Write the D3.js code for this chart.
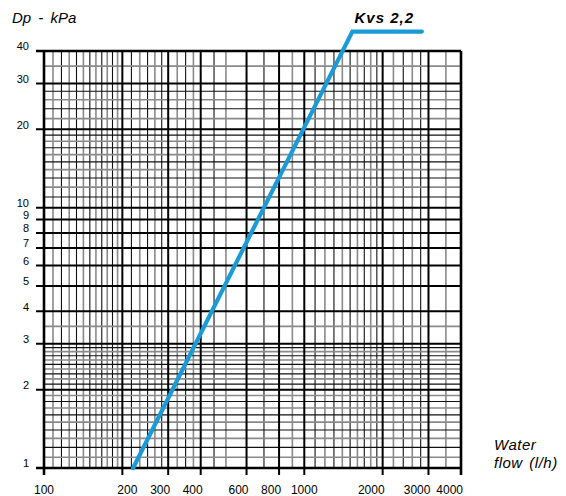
<!DOCTYPE html>
<html><head><meta charset="utf-8">
<script src="https://cdn.jsdelivr.net/npm/d3@7"></script>
<style>body{margin:0;background:#fff}svg{display:block}text{font-family:"Liberation Sans",Arial,Helvetica,sans-serif;fill:#000}</style>
</head><body><svg id="c" width="566" height="496"></svg>
<script>
// ---- data ----
const xMajor = [100, 200, 300, 400, 600, 800, 1000, 2000, 3000, 4000];
const xMinor = [108.3, 116.7, 125, 133.3, 141.7, 150, 158.3, 166.7, 175, 183.3, 191.7,
  216.7, 233.3, 250, 266.7, 283.3, 325, 350, 375, 450, 500, 700, 900,
  1100, 1200, 1300, 1400, 1500, 1600, 1700, 1800, 1900, 2200, 2400, 2600, 2800, 3500];
const yMajor = [1, 2, 3, 4, 5, 6, 7, 8, 9, 10, 20, 30, 40];
const yMinor = [1.1, 1.2, 1.3, 1.4, 1.5, 1.6, 1.7, 1.8, 1.9,
  2.1, 2.2, 2.3, 2.4, 2.5, 2.6, 2.7, 2.8, 2.9, 3.5,
  11, 12, 13, 14, 15, 16, 17, 18, 19, 22, 24, 26, 28, 35];
const xTickLabels = ["100", "200", "300", "400", "600", "800", "1000", "2000", "3000", "4000"];
const yTickLabels = ["1", "2", "3", "4", "5", "6", "7", "8", "9", "10", "20", "30", "40"];
const kvsFlow = [220, 1530, 2830];   // l/h
const kvsDp = [1, 47.5, 47.5];       // kPa
const kvsLabel = "Kvs 2,2";

// ---- chart ----
const svg = d3.select("#c");
const x = d3.scaleLog().domain([100, 4000]).range([44, 461]);
const y = d3.scaleLog().domain([1, 40]).range([468, 51]);
const [y0, y1] = [y(1), y(40)];
const [x0, x1] = [x(100), x(4000)];

const grid = svg.append("g");
// minor vertical
grid.selectAll("line.vm").data(xMinor).join("line")
  .attr("x1", d => x(d)).attr("x2", d => x(d)).attr("y1", y0).attr("y2", y1)
  .attr("stroke", (d, i) => i % 2 === 0 ? "#8a8a8a" : "#111")
  .attr("stroke-width", (d, i) => i % 2 === 0 ? 1.6 : 1.1);
// minor horizontal
grid.selectAll("line.hm").data(yMinor).join("line")
  .attr("y1", d => y(d)).attr("y2", d => y(d)).attr("x1", x0).attr("x2", x1)
  .attr("stroke", (d, i) => i % 2 === 0 ? "#8a8a8a" : "#111")
  .attr("stroke-width", (d, i) => i % 2 === 0 ? 1.6 : 1.1);
// major vertical (extend as ticks below)
grid.selectAll("line.vM").data(xMajor).join("line")
  .attr("x1", d => x(d)).attr("x2", d => x(d)).attr("y1", y0 + 7).attr("y2", y1)
  .attr("stroke", "#000").attr("stroke-width", (d, i) => (i === 0 || i === xMajor.length - 1) ? 2.6 : 2);
// major horizontal (extend as ticks left)
grid.selectAll("line.hM").data(yMajor).join("line")
  .attr("y1", d => y(d)).attr("y2", d => y(d)).attr("x1", x0 - 8).attr("x2", x1)
  .attr("stroke", "#000").attr("stroke-width", (d, i) => (i === 0 || i === yMajor.length - 1) ? 2.6 : 2);

// y labels
svg.append("g").selectAll("text").data(yMajor).join("text")
  .attr("x", 29).attr("y", d => y(d) - 4.5).attr("dy", "0.35em")
  .attr("text-anchor", "end").attr("font-size", 11)
  .text((d, i) => yTickLabels[i]);

// x labels
svg.append("g").selectAll("text").data(xMajor).join("text")
  .attr("x", d => (d === 100 || d === 1000) ? x(d) : (d === 200 ? x(d) + 5 : x(d) + 2))
  .attr("y", 494)
  .attr("text-anchor", d => (d === 100 || d === 200 || d === 1000) ? "middle" : "end")
  .attr("font-size", 12)
  .text((d, i) => xTickLabels[i]);

// axis titles
svg.append("text").attr("x", 12).attr("y", 23).attr("font-size", 15)
  .attr("font-style", "italic").attr("word-spacing", 3).text("Dp - kPa");
svg.append("text").attr("x", 494).attr("y", 450).attr("font-size", 15)
  .attr("font-style", "italic").attr("letter-spacing", 0.5).text("Water");
svg.append("text").attr("x", 494).attr("y", 468).attr("font-size", 15)
  .attr("font-style", "italic").attr("letter-spacing", 0.5).attr("word-spacing", 2).text("flow (l/h)");

// Kvs curve
const pts = kvsFlow.map((q, i) => [q, kvsDp[i]]);
svg.append("path").datum(pts)
  .attr("d", d3.line().x(d => x(d[0])).y(d => y(d[1])))
  .attr("fill", "none").attr("stroke", "#1a9bd7").attr("stroke-width", 4.2)
  .attr("stroke-linejoin", "miter").attr("stroke-linecap", "round");

svg.append("text").attr("x", 414).attr("y", 22.5).attr("text-anchor", "end")
  .attr("font-size", 15).attr("font-weight", "bold").attr("font-style", "italic")
  .attr("letter-spacing", 1).text(kvsLabel);
</script></body></html>
